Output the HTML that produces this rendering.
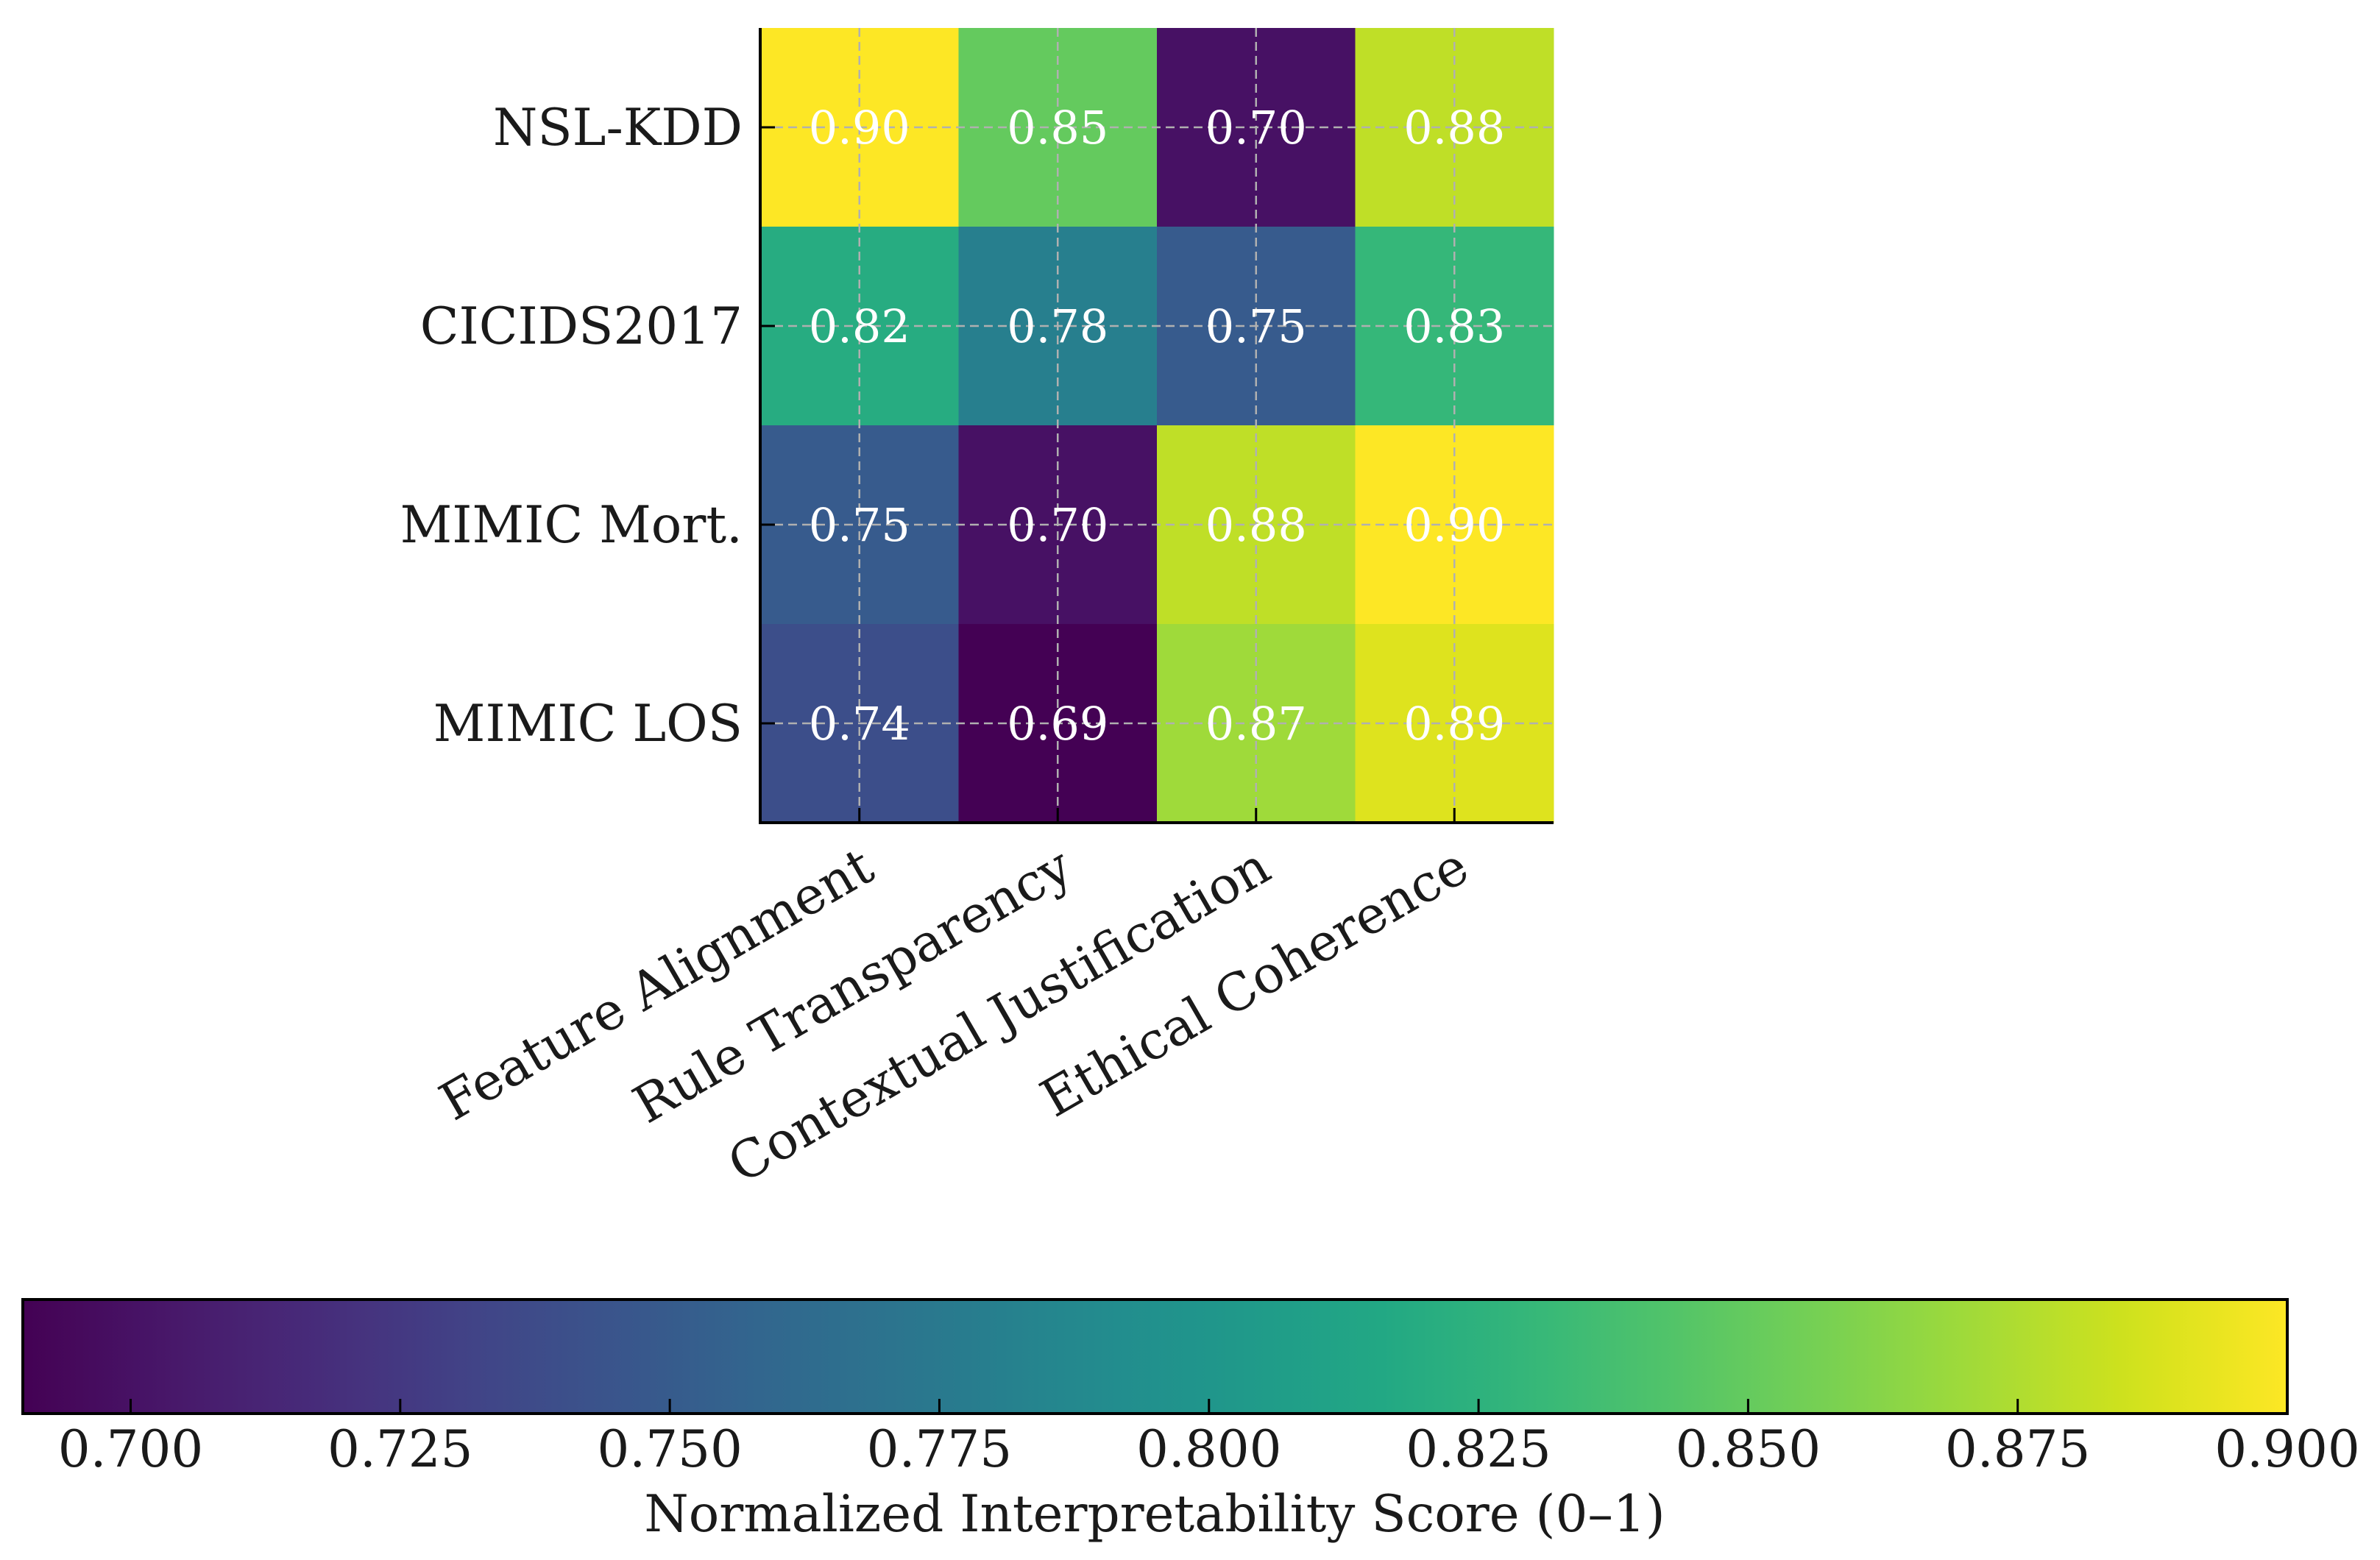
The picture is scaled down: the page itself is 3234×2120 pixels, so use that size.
<!DOCTYPE html>
<html><head><meta charset="utf-8"><style>
html,body{margin:0;padding:0;background:#fff;}
svg{display:block;font-family:"DejaVu Serif","Liberation Serif",serif;}
</style></head><body>
<svg id="chart" width="3234" height="2120" viewBox="0 0 3234 2120" xmlns="http://www.w3.org/2000/svg">
<defs><linearGradient id="vir" x1="0" x2="1" y1="0" y2="0"></linearGradient></defs>
<g id="cells"></g>
<g id="grid"></g>
<g id="vals"></g>
<g id="axes"></g>
<g id="cbar"></g>
</svg>
<script>
const rows = ["NSL-KDD","CICIDS2017","MIMIC Mort.","MIMIC LOS"];
const cols = ["Feature Alignment","Rule Transparency","Contextual Justification","Ethical Coherence"];
const values = [
  [0.90,0.85,0.70,0.88],
  [0.82,0.78,0.75,0.83],
  [0.75,0.70,0.88,0.90],
  [0.74,0.69,0.87,0.89]
];
const cbarTicks = [0.700,0.725,0.750,0.775,0.800,0.825,0.850,0.875,0.900];
const vmin = 0.69, vmax = 0.90;

const NS="http://www.w3.org/2000/svg";
const VIR=[[68,1,84],[72,24,106],[71,45,123],[65,68,135],[57,86,140],[49,104,142],[42,120,142],[35,137,142],[31,152,139],[34,168,132],[53,183,121],[84,197,104],[122,209,81],[165,219,54],[210,226,27],[253,231,37]];
function viridis(t){t=Math.max(0,Math.min(1,t));const p=t*(VIR.length-1);const i=Math.min(Math.floor(p),VIR.length-2);const f=p-i;const a=VIR[i],b=VIR[i+1];return `rgb(${a.map((v,k)=>Math.round(v+(b[k]-v)*f)).join(',')})`;}
function mk(tag,attrs,parent){const e=document.createElementNS(NS,tag);for(const k in attrs)e.setAttribute(k,attrs[k]);parent.appendChild(e);return e;}

const X0=1033,Y0=38,CW=269.5,CH=270;
const xc=j=>X0+CW*(j+0.5), yc=i=>Y0+CH*(i+0.5);
const W=CW*cols.length,H=CH*rows.length;
const cells=document.getElementById('cells'),grid=document.getElementById('grid'),vals=document.getElementById('vals'),axes=document.getElementById('axes'),cbar=document.getElementById('cbar');

values.forEach((row,i)=>row.forEach((v,j)=>{
  const r=mk('rect',{x:X0+CW*j,y:Y0+CH*i,width:CW+0.5,height:CH+0.5,fill:viridis((v-vmin)/(vmax-vmin))},cells);
  
  
  const t=mk('text',{x:xc(j),y:yc(i)+22,'text-anchor':'middle','font-size':62,fill:'#fff'},vals);
  t.textContent=v.toFixed(2);
  
  
}));
cols.forEach((c,j)=>{const l=mk('line',{x1:xc(j),x2:xc(j),y1:Y0,y2:Y0+H,stroke:'#b0b0b0','stroke-width':2.5,'stroke-dasharray':'12,7'},grid);});
rows.forEach((r,i)=>{const l=mk('line',{x1:X0,x2:X0+W,y1:yc(i),y2:yc(i),stroke:'#b0b0b0','stroke-width':2.5,'stroke-dasharray':'12,7'},grid);});

const la=mk('line',{x1:X0,x2:X0,y1:Y0,y2:Y0+H+2,stroke:'#000','stroke-width':4},axes);

const ba=mk('line',{x1:X0-2,x2:X0+W,y1:Y0+H,y2:Y0+H,stroke:'#000','stroke-width':4},axes);

rows.forEach((r,i)=>{
  const tk=mk('line',{x1:X0,x2:X0+20,y1:yc(i),y2:yc(i),stroke:'#000','stroke-width':3},axes);
  
  const t=mk('text',{x:1009,y:yc(i)+24,'text-anchor':'end','font-size':69,fill:'#1a1a1a'},axes);
  t.textContent=r;
  
});
cols.forEach((c,j)=>{
  const tk=mk('line',{x1:xc(j),x2:xc(j),y1:Y0+H,y2:Y0+H-20,stroke:'#000','stroke-width':3},axes);
  
  const t=mk('text',{transform:`translate(${xc(j)+24},1192) rotate(-30)`,'text-anchor':'end','font-size':70,fill:'#1a1a1a'},axes);
  t.textContent=c;
  
});

const CX0=31,CX1=3108,CY0=1766,CY1=1921;
const grad=document.getElementById('vir');
for(let k=0;k<=40;k++){mk('stop',{offset:(k/40),'stop-color':viridis(k/40)},grad);}
const cx=v=>CX0+(v-vmin)/(vmax-vmin)*(CX1-CX0);
const cr=mk('rect',{x:CX0,y:CY0,width:CX1-CX0,height:CY1-CY0,fill:'url(#vir)',stroke:'#000','stroke-width':4},cbar);

cbarTicks.forEach(v=>{
  const tk=mk('line',{x1:cx(v),x2:cx(v),y1:CY1,y2:CY1-20,stroke:'#000','stroke-width':3},cbar);
  
  const t=mk('text',{x:cx(v),y:1993,'text-anchor':'middle','font-size':69,fill:'#1a1a1a'},cbar);
  t.textContent=v.toFixed(3);
  
});
const ttl=mk('text',{x:1569,y:2081,'text-anchor':'middle','font-size':69,fill:'#1a1a1a'},cbar);
ttl.textContent='Normalized Interpretability Score (0–1)';

</script>
</body></html>
